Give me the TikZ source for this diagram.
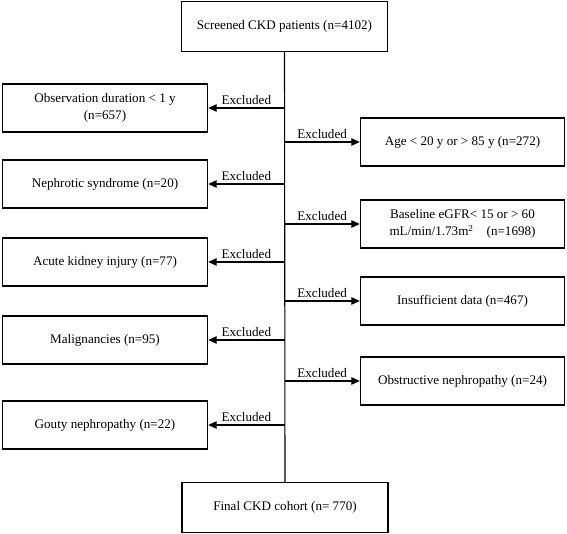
\documentclass[tikz,border=0pt]{standalone}
\usepackage{fontspec}
\setmainfont{Liberation Serif}
\usetikzlibrary{arrows.meta}
\begin{document}
\begin{tikzpicture}[x=1pt,y=-1pt,
 txt/.style={font=\fontsize{13.1}{16.5}\selectfont},
 box/.style={draw, line width=1.4pt, minimum height=48pt, align=center, inner sep=2pt, txt},
 lbox/.style={box, minimum width=205pt},
 rbox/.style={box, minimum width=204pt},
 arr/.style={line width=1.1pt, -{Triangle[length=8.5pt,width=7.5pt]}},
 lbl/.style={midway, above, inner sep=3pt, txt}]
\useasboundingbox (0,0) rectangle (567,534);
\node[box, minimum width=206pt, minimum height=50pt] (top) at (284.5,26.5) {Screened CKD patients (n=4102)};
\node[box, minimum width=206pt, minimum height=50pt] (final) at (285,507.5) {Final CKD cohort (n= 770)};
\draw[line width=1.1pt] (top.south) -- (final.north);
% left boxes
\node[lbox] (l1) at (105,108) {Observation duration < 1 y\\(n=657)};
\node[lbox] (l2) at (105,184) {Nephrotic syndrome (n=20)};
\node[lbox] (l3) at (105,262) {Acute kidney injury (n=77)};
\node[lbox] (l4) at (105,340) {Malignancies (n=95)};
\node[lbox] (l5) at (105,425) {Gouty nephropathy (n=22)};
% right boxes
\node[rbox] (r1) at (462.5,142) {Age < 20 y or > 85 y (n=272)};
\node[rbox] (r2) at (462.5,224) {Baseline eGFR< 15 or > 60\\mL/min/1.73m\textsuperscript{2}\quad(n=1698)};
\node[rbox] (r3) at (462.5,301) {Insufficient data (n=467)};
\node[rbox] (r4) at (462.5,381) {Obstructive nephropathy (n=24)};
% connectors
\foreach \n in {l1,l2,l3,l4,l5}{
  \draw[arr] (\n.east -| top.south) -- node[lbl] {Excluded} (\n.east);
}
\foreach \n in {r1,r2,r3,r4}{
  \draw[arr] (\n.west -| top.south) -- node[lbl] {Excluded} (\n.west);
}
\end{tikzpicture}
\end{document}
